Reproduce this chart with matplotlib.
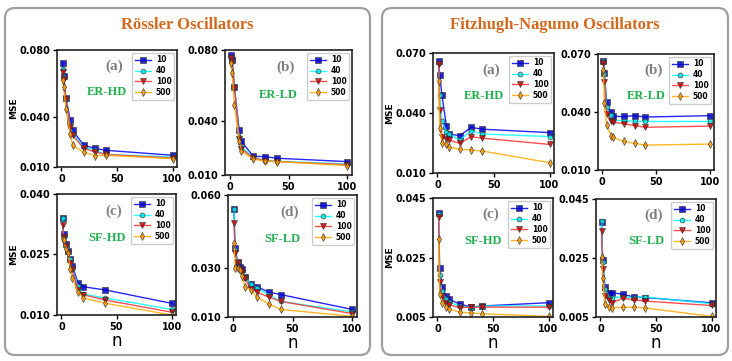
import numpy as np
import matplotlib
matplotlib.use('Agg')
import matplotlib.pyplot as plt
from matplotlib.patches import FancyBboxPatch

plt.rcParams['font.family'] = 'DejaVu Sans'
plt.rcParams['font.weight'] = 'bold'

# ---------------- data ----------------
labels = ['10', '40', '100', '500']

n_er = [1, 2, 4, 8, 10, 20, 30, 40, 100]
n_rc = [1, 2, 4, 6, 8, 10, 15, 20, 40, 100]
n_rd = [1, 2, 4, 6, 8, 10, 15, 20, 30, 40, 100]

# Rossler
ross_er_hd = [
    [0.0720, 0.0645, 0.0510, 0.0380, 0.0320, 0.0231, 0.0211, 0.0200, 0.0170],
    [0.0685, 0.0640, 0.0505, 0.0347, 0.0300, 0.0220, 0.0200, 0.0175, 0.0160],
    [0.0667, 0.0625, 0.0505, 0.0340, 0.0290, 0.0213, 0.0190, 0.0175, 0.0154],
    [0.0620, 0.0577, 0.0448, 0.0300, 0.0230, 0.0188, 0.0168, 0.0170, 0.0150],
]
ross_er_ld = [
    [0.0772, 0.0744, 0.0594, 0.0353, 0.0288, 0.0205, 0.0203, 0.0194, 0.0175],
    [0.0759, 0.0740, 0.0594, 0.0312, 0.0256, 0.0200, 0.0181, 0.0177, 0.0162],
    [0.0753, 0.0734, 0.0590, 0.0303, 0.0246, 0.0196, 0.0180, 0.0175, 0.0158],
    [0.0729, 0.0669, 0.0494, 0.0293, 0.0233, 0.0190, 0.0177, 0.0175, 0.0153],
]
ross_sf_hd = [
    [0.0341, 0.0300, 0.0276, 0.0259, 0.0239, 0.0222, 0.0180, 0.0170, 0.0162, 0.0129],
    [0.0341, 0.0293, 0.0272, 0.0256, 0.0239, 0.0215, 0.0171, 0.0152, 0.0142, 0.0114],
    [0.0324, 0.0293, 0.0270, 0.0254, 0.0228, 0.0213, 0.0163, 0.0150, 0.0137, 0.0107],
    [0.0289, 0.0285, 0.0263, 0.0253, 0.0214, 0.0192, 0.0157, 0.0142, 0.0129, 0.0100],
]
ross_sf_ld = [
    [0.0542, 0.0383, 0.0327, 0.0305, 0.0295, 0.0263, 0.0235, 0.0225, 0.0202, 0.0192, 0.0131],
    [0.0542, 0.0376, 0.0324, 0.0300, 0.0287, 0.0263, 0.0235, 0.0220, 0.0192, 0.0164, 0.0121],
    [0.0485, 0.0362, 0.0320, 0.0295, 0.0284, 0.0259, 0.0216, 0.0202, 0.0182, 0.0164, 0.0114],
    [0.0405, 0.0300, 0.0300, 0.0291, 0.0270, 0.0225, 0.0211, 0.0182, 0.0154, 0.0131, 0.0103],
]

# Fitzhugh-Nagumo
fhn_er_hd = [
    [0.0658, 0.0589, 0.0488, 0.0333, 0.0294, 0.0287, 0.0328, 0.0319, 0.0302],
    [0.0649, 0.0488, 0.0358, 0.0307, 0.0295, 0.0265, 0.0312, 0.0295, 0.0282],
    [0.0644, 0.0417, 0.0282, 0.0269, 0.0265, 0.0248, 0.0282, 0.0274, 0.0243],
    [0.0560, 0.0324, 0.0252, 0.0245, 0.0231, 0.0218, 0.0215, 0.0210, 0.0152],
]
fhn_er_ld = [
    [0.0662, 0.0600, 0.0452, 0.0400, 0.0377, 0.0377, 0.0381, 0.0374, 0.0381],
    [0.0662, 0.0597, 0.0426, 0.0383, 0.0356, 0.0356, 0.0351, 0.0351, 0.0351],
    [0.0656, 0.0557, 0.0388, 0.0356, 0.0348, 0.0339, 0.0330, 0.0321, 0.0327],
    [0.0615, 0.0444, 0.0335, 0.0278, 0.0269, 0.0248, 0.0238, 0.0229, 0.0234],
]
fhn_sf_hd = [
    [0.0399, 0.0216, 0.0152, 0.0121, 0.0110, 0.0094, 0.0083, 0.0087, 0.0098],
    [0.0396, 0.0190, 0.0138, 0.0110, 0.0101, 0.0087, 0.0081, 0.0087, 0.0087],
    [0.0387, 0.0167, 0.0121, 0.0098, 0.0092, 0.0081, 0.0083, 0.0083, 0.0083],
    [0.0312, 0.0127, 0.0096, 0.0083, 0.0077, 0.0066, 0.0064, 0.0061, 0.0052],
]
fhn_sf_ld = [
    [0.0373, 0.0243, 0.0153, 0.0133, 0.0133, 0.0127, 0.0118, 0.0116, 0.0098],
    [0.0375, 0.0237, 0.0145, 0.0116, 0.0116, 0.0118, 0.0116, 0.0118, 0.0095],
    [0.0340, 0.0214, 0.0121, 0.0106, 0.0098, 0.0113, 0.0109, 0.0104, 0.0089],
    [0.0252, 0.0181, 0.0093, 0.0083, 0.0081, 0.0083, 0.0083, 0.0081, 0.0052],
]

# ---------------- style ----------------
line_colors = ['#0000ff', '#00ffff', '#ff3030', '#ffaa00']
face_colors = ['#0000cc', '#00e5e5', '#cc0000', '#ff9900']
markers = ['s', 'o', 'v', 'd']

W, H = 732, 361
fig = plt.figure(figsize=(W / 100, H / 100), dpi=100)

# rounded boxes (pixel coordinates -> inches)
for (x0, x1) in [(5, 370), (382, 728)]:
    box = FancyBboxPatch(((x0) / 100, (H - 355) / 100), (x1 - x0) / 100, 347 / 100,
                         boxstyle='round,pad=0,rounding_size=0.1',
                         transform=fig.dpi_scale_trans, facecolor='white',
                         edgecolor='#a0a0a0', linewidth=1.6, zorder=0)
    fig.add_artist(box)

fig.text(187 / W, 1 - 25 / H, 'Rössler Oscillators', ha='center', va='center',
         fontsize=12, fontweight='bold', family='Liberation Serif', color='#d2691e')
fig.text(555 / W, 1 - 25 / H, 'Fitzhugh-Nagumo Oscillators', ha='center', va='center',
         fontsize=12, fontweight='bold', family='Liberation Serif', color='#d2691e')


def px_axes(L, R, T, B):
    return fig.add_axes([L / W, 1 - B / H, (R - L) / W, (B - T) / H])


panels = [
    # (L, R, T, B), x, data, yticks, tag, name, ylabel, xlabel
    ((57, 177, 50, 167), n_er, ross_er_hd, [0.010, 0.040, 0.080], '(a)', 'ER-HD', True, False),
    ((225, 352, 50, 175), n_er, ross_er_ld, [0.010, 0.040, 0.080], '(b)', 'ER-LD', False, False),
    ((57, 176, 194, 315), n_rc, ross_sf_hd, [0.010, 0.025, 0.040], '(c)', 'SF-HD', True, True),
    ((228, 357, 195, 317), n_rd, ross_sf_ld, [0.010, 0.030, 0.060], '(d)', 'SF-LD', False, True),
    ((433, 554, 53, 173), n_er, fhn_er_hd, [0.010, 0.040, 0.070], '(a)', 'ER-HD', True, False),
    ((598, 714, 54, 170), n_er, fhn_er_ld, [0.010, 0.040, 0.070], '(b)', 'ER-LD', False, False),
    ((433, 553, 198, 317), n_er, fhn_sf_hd, [0.005, 0.025, 0.045], '(c)', 'SF-HD', True, True),
    ((596, 716, 199, 317), n_er, fhn_sf_ld, [0.005, 0.025, 0.045], '(d)', 'SF-LD', False, True),
]

for pos, x, data, yt, tag, name, show_y, show_x in panels:
    ax = px_axes(*pos)
    for k in range(4):
        ax.plot(x, data[k], color=line_colors[k], marker=markers[k], lw=1.0,
                ms=4 if markers[k] != 'o' else 3.5, mfc=face_colors[k],
                mec='#303030', mew=0.5, label=labels[k], alpha=0.85)
    ax.set_ylim(yt[0], yt[-1])
    ax.set_yticks(yt)
    ax.set_yticklabels(['{:.3f}'.format(v) for v in yt])
    ax.set_xlim(-4, 104)
    ax.set_xticks([0, 50, 100])
    ax.tick_params(labelsize=7, length=3, width=1, pad=2)
    for lab in ax.get_xticklabels() + ax.get_yticklabels():
        lab.set_fontweight('bold')
    for sp in ax.spines.values():
        sp.set_linewidth(1.2)
        sp.set_color('#222222')
    if show_y:
        ax.set_ylabel('MSE', fontsize=6.5, fontweight='bold', labelpad=1)
    if show_x:
        ax.set_xlabel('n', fontsize=12, fontweight='normal', labelpad=0)
    ax.text(0.48, 0.86, tag, transform=ax.transAxes, ha='center', va='center',
            fontsize=11, fontweight='bold', family='Liberation Serif', color='#808080')
    ax.text(0.42, 0.64, name, transform=ax.transAxes, ha='center', va='center',
            fontsize=9, fontweight='bold', family='Liberation Serif', color='#22b04c')
    leg = ax.legend(loc='upper right', prop={'weight': 'bold', 'size': 5.5},
                    handlelength=2.2, labelspacing=0.25, borderpad=0.35,
                    handletextpad=0.6, borderaxespad=0.35, framealpha=1)
    leg.get_frame().set_edgecolor('#cccccc')

fig.savefig('out.png', dpi=100)
